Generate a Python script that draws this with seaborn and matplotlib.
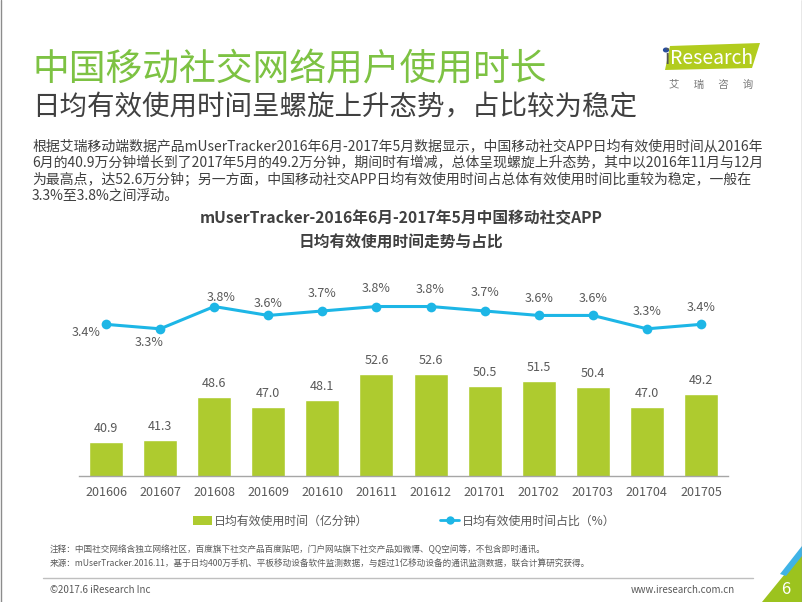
import numpy as np
import matplotlib
matplotlib.use("Agg")
import matplotlib.pyplot as plt
from matplotlib.patches import Polygon, Patch
from matplotlib.lines import Line2D
import seaborn as sns

# data
months = ["201606", "201607", "201608", "201609", "201610", "201611",
          "201612", "201701", "201702", "201703", "201704", "201705"]
minutes = [40.9, 41.3, 48.6, 47.0, 48.1, 52.6, 52.6, 50.5, 51.5, 50.4, 47.0, 49.2]
share = [3.4, 3.3, 3.8, 3.6, 3.7, 3.8, 3.8, 3.7, 3.6, 3.6, 3.3, 3.4]

bar_label = "日均有效使用时间（亿分钟）"
line_label = "日均有效使用时间占比（%）"

title = "中国移动社交网络用户使用时长"
subtitle = "日均有效使用时间呈螺旋上升态势，占比较为稳定"
paragraph = [
    "根据艾瑞移动端数据产品mUserTracker2016年6月-2017年5月数据显示，中国移动社交APP日均有效使用时间从2016年",
    "6月的40.9万分钟增长到了2017年5月的49.2万分钟，期间时有增减，总体呈现螺旋上升态势，其中以2016年11月与12月",
    "为最高点，达52.6万分钟；另一方面，中国移动社交APP日均有效使用时间占总体有效使用时间比重较为稳定，一般在",
    "3.3%至3.8%之间浮动。",
]
chart_title = ["mUserTracker-2016年6月-2017年5月中国移动社交APP", "日均有效使用时间走势与占比"]
notes = [
    "注释：中国社交网络含独立网络社区，百度旗下社交产品百度贴吧，门户网站旗下社交产品如微博、QQ空间等，不包含即时通讯。",
    "来源：mUserTracker.2016.11，基于日均400万手机、平板移动设备软件监测数据，与超过1亿移动设备的通讯监测数据，联合计算研究获得。",
]

# styling
GREEN = "#AECB2F"
BLUE = "#1DB6E6"
TITLE_GREEN = "#7DC243"
DARK = "#404040"
GRAY = "#595959"
# offsets (px) of the percentage labels relative to their points
pct_offsets = [(-20, -8), (-11, -14), (7, 9), (0, 12), (0, 17), (0, 18),
               (0, 17), (0, 18), (0, 17), (0, 17), (0, 17), (0, 17)]

sns.set_style("white")
plt.rcParams["font.family"] = ["Noto Sans CJK SC", "DejaVu Sans"]

W, H = 802, 602
fig = plt.figure(figsize=(W / 100, H / 100), dpi=100)


def fx(x):
    return x / W


def fy(y):
    return 1 - y / H


# main axes (bars)
ax = fig.add_axes([fx(79), fy(476), fx(728 - 79), (476 - 290) / H])
sns.barplot(x=months, y=minutes, color=GREEN, saturation=1, width=0.63, ax=ax)
ax.set_xlim(-0.5, len(months) - 0.5)
ax.set_ylim(35, 35 + 186 / 5.78)
ax.bar_label(ax.containers[0], fmt="%.1f", padding=5, fontsize=9, color=GRAY)
ax.set_xlabel("")
ax.set_ylabel("")
ax.set_yticks([])
ax.tick_params(axis="x", length=0, pad=7, labelsize=9, labelcolor=GRAY)
for s in ["left", "right", "top"]:
    ax.spines[s].set_visible(False)
ax.spines["bottom"].set_color("#A6A6A6")
ax.spines["bottom"].set_linewidth(1)

# twin axes (share line)
ax2 = ax.twinx()
sns.lineplot(x=np.arange(len(months)), y=share, ax=ax2, color=BLUE, lw=2.2,
             marker="o", markersize=7, markeredgewidth=0, legend=False)
ax2.set_ylim(0, 186 / 44.6)
ax2.set_yticks([])
ax2.set_ylabel("")
for s in ["left", "right", "top", "bottom"]:
    ax2.spines[s].set_visible(False)
for i, (v, off) in enumerate(zip(share, pct_offsets)):
    ax2.annotate(f"{v:.1f}%", (i, v), xytext=(off[0] * 0.72, off[1] * 0.72),
                 textcoords="offset points", ha="center", va="center",
                 fontsize=9, color=GRAY)

# legend
handles = [Patch(facecolor=GREEN, edgecolor="none"),
           Line2D([0], [0], color=BLUE, lw=2, marker="o", markersize=6, markeredgewidth=0)]
fig.legend(handles, [bar_label, line_label], ncol=2, loc="center",
           bbox_to_anchor=(fx(404), fy(521)), frameon=False, fontsize=8.6,
           handlelength=1.6, handleheight=0.7, handletextpad=0.2, columnspacing=6,
           labelcolor=GRAY)

# header
fig.text(fx(32), fy(70), title, fontsize=26.5, color=TITLE_GREEN,
         va="center", ha="left")
fig.text(fx(32), fy(108), subtitle, fontsize=19.8, color=DARK,
         va="center", ha="left")
for k, line in enumerate(paragraph):
    fig.text(fx(32), fy(146 + k * 16.7), line, fontsize=10, color=DARK, va="center", ha="left")
fig.text(fx(401), fy(218), chart_title[0], fontsize=11.3, fontweight="bold", color=DARK,
         va="center", ha="center")
fig.text(fx(401), fy(243), chart_title[1], fontsize=11.3, fontweight="bold", color=DARK,
         va="center", ha="center")

# logo
fig.patches.append(Polygon([(fx(670), fy(46)), (fx(760), fy(43)), (fx(752), fy(68)), (fx(665), fy(70))],
                           closed=True, facecolor="#B2CC1E", edgecolor="none",
                           transform=fig.transFigure))
fig.text(fx(664), fy(58), "i", fontsize=14, color="#555555", va="center", ha="left")
fig.text(fx(670), fy(58), "Research", fontsize=14, color="white", va="center", ha="left")
fig.patches.append(plt.Circle((fx(666), fy(50)), 0.003, color="#2A4E9C",
                              transform=fig.transFigure))
fig.text(fx(711), fy(85), "艾      瑞      咨      询", fontsize=7.5, color="#777777",
         va="center", ha="center")

# notes and footer
for k, line in enumerate(notes):
    fig.text(fx(50), fy(549 + k * 14), line, fontsize=6.2, color=GRAY, va="center", ha="left")
fig.add_artist(Line2D([fx(43), fx(753)], [fy(578), fy(578)], color="#BFBFBF", lw=1))
fig.text(fx(50), fy(590), "©2017.6 iResearch Inc", fontsize=7, color=GRAY, va="center", ha="left")
fig.text(fx(735), fy(590), "www.iresearch.com.cn", fontsize=7, color=GRAY, va="center", ha="right")
fig.patches.append(Polygon([(fx(762), fy(602)), (fx(802), fy(602)), (fx(802), fy(553))],
                           closed=True, facecolor="#9CC31E", edgecolor="none",
                           transform=fig.transFigure))
fig.patches.append(Polygon([(fx(780), fy(574)), (fx(802), fy(546)), (fx(802), fy(556)), (fx(786), fy(576))],
                           closed=True, facecolor="#3FB3E6", edgecolor="none",
                           transform=fig.transFigure))
fig.text(fx(786), fy(589), "6", fontsize=12, color="white", va="center", ha="center")

# slide side borders
fig.add_artist(Line2D([fx(0.5), fx(0.5)], [0, 1], color="#8C8C8C", lw=1))
fig.add_artist(Line2D([fx(801.5), fx(801.5)], [0, 1], color="#8C8C8C", lw=1))

fig.savefig("out.png", dpi=100)
